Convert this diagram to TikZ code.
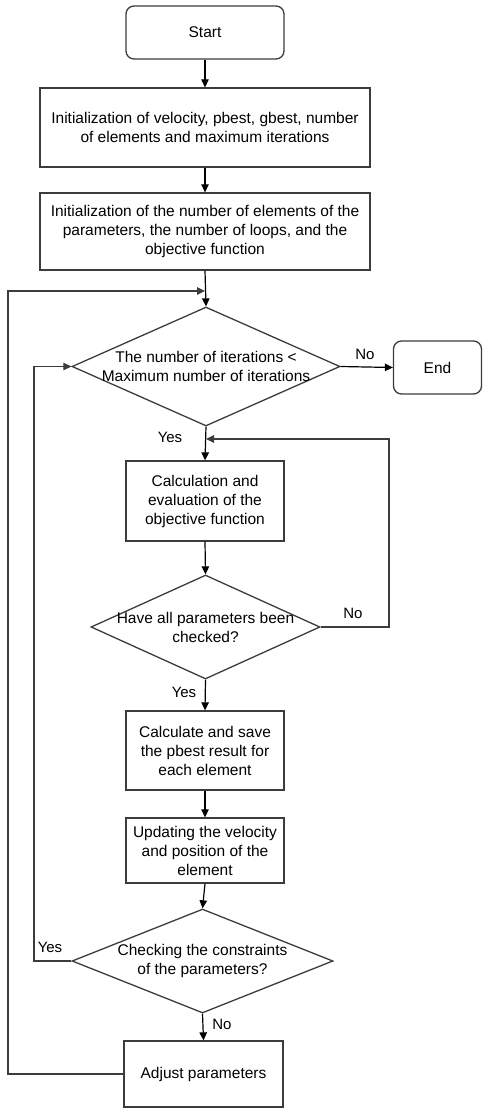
\documentclass[tikz,border=0pt]{standalone}
\usepackage{fontspec}
\setmainfont{Liberation Sans}
\usetikzlibrary{shapes.geometric,arrows.meta}
\definecolor{linegray}{HTML}{3C3C3C}
\begin{document}
\begin{tikzpicture}[x=1pt,y=-1pt,
  base/.style={draw=linegray,line width=1.3pt,fill=white,inner sep=0pt,align=center,text=black,
    font=\fontsize{15.5}{19}\selectfont},
  box/.style={base,rectangle},
  term/.style={base,rectangle,rounded corners=8pt},
  decision/.style={base,diamond,aspect=2},
  dtext/.style={inner sep=0pt,align=center,font=\fontsize{15.5}{19}\selectfont},
  lbl/.style={inner sep=0pt,font=\fontsize{15}{18}\selectfont},
  conn/.style={draw=black,line width=1.2pt,-{Triangle[length=8pt,width=7.5pt]}},
  line/.style={draw=linegray,line width=1.2pt}
]
\useasboundingbox (0,0) rectangle (483,1108);

\node[term, minimum width=158pt, minimum height=53pt] (start) at (205,32.5) {Start};
\node[box, minimum width=330pt, minimum height=79pt] (init1) at (205,127.5)
  {Initialization of velocity, pbest, gbest, number\\of elements and maximum iterations};
\node[box, minimum width=330pt, minimum height=77pt] (init2) at (205,231.5)
  {Initialization of the number of elements of the\\parameters, the number of loops, and the\\objective function};
\node[decision, minimum width=268pt, minimum height=119pt] (d1) at (206,366.5) {};
\node[dtext] at (d1.center) {The number of iterations <\\Maximum number of iterations};
\node[term, minimum width=88pt, minimum height=53pt] (end) at (437.5,367.5) {End};
\node[box, minimum width=158pt, minimum height=80pt] (calc) at (205,501)
  {Calculation and\\evaluation of the\\objective function};
\node[decision, minimum width=229pt, minimum height=104pt] (d2) at (205.5,627) {};
\node[dtext] at (d2.center) {Have all parameters been\\checked?};
\node[box, minimum width=158pt, minimum height=79pt] (pb) at (205,750.5)
  {Calculate and save\\the pbest result for\\each element};
\node[box, minimum width=158pt, minimum height=65pt] (upd) at (205,850.5)
  {Updating the velocity\\and position of the\\element};
\node[decision, minimum width=261pt, minimum height=104pt] (d3) at (202.5,961) {};
\node[dtext] at (d3.center) {Checking the constraints\\of the parameters?};
\node[box, minimum width=159pt, minimum height=66pt] (adj) at (203.5,1074)
  {Adjust parameters};

\coordinate (j1) at (205,291);
\coordinate (j2) at (206,439);

\draw[conn] (start) -- (init1);
\draw[conn] (init1) -- (init2);
\draw[conn] (init2.south) -- (d1.north);
\draw[conn] (d1.east) -- (end.west);
\draw[conn] (d1.south) -- (calc.north);
\draw[conn] (calc.south) -- (d2.north);
\draw[conn] (d2.south) -- (pb.north);
\draw[conn] (pb.south) -- (upd.north);
\draw[conn] (upd.south) -- (d3.north);
\draw[conn] (d3.south) -- (adj.north);

\draw[line,-{Triangle[length=8pt,width=7.5pt]}] (d2.east) -- (389,627) -- (389,439) -- (j2);
\draw[line,-{Triangle[length=8pt,width=7.5pt]}] (d3.west) -- (34,961) -- (34,366.5) -- (d1.west);
\draw[line,-{Triangle[length=8pt,width=7.5pt]}] (adj.west) -- (8,1074) -- (8,291) -- (j1);

\node[lbl] at (365,354) {No};
\node[lbl] at (170,437) {Yes};
\node[lbl] at (353,613) {No};
\node[lbl] at (184,692) {Yes};
\node[lbl] at (50,947) {Yes};
\node[lbl] at (222,1024) {No};
\end{tikzpicture}
\end{document}
